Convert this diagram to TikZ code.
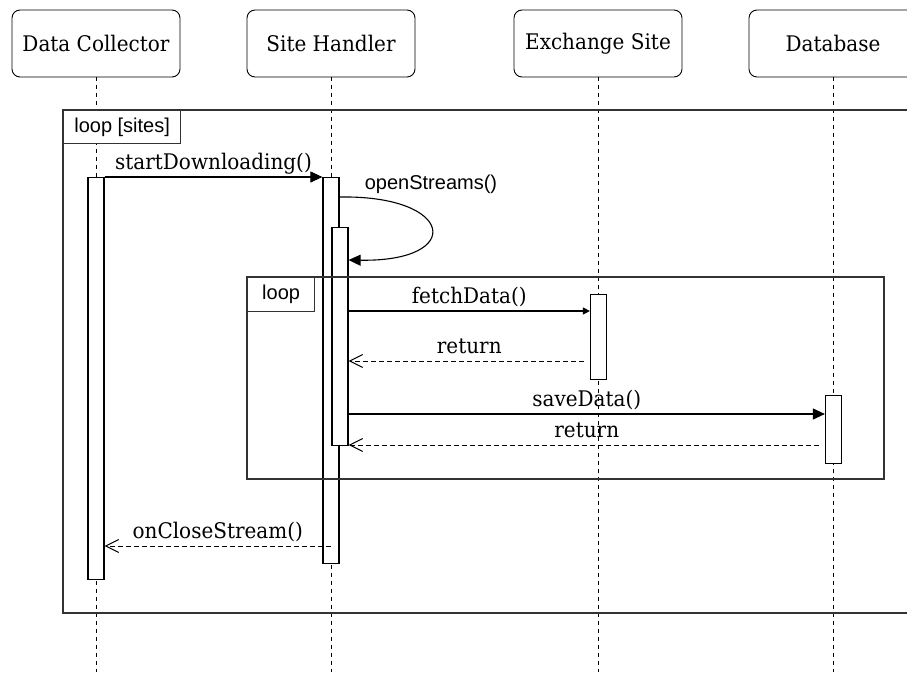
\documentclass[tikz,border=0pt]{standalone}
\usepackage{fontspec}
\setmainfont{DejaVu Serif}[FakeStretch=0.93]
\newfontfamily\framefont{Liberation Sans}
\usepackage{tikz}
\usetikzlibrary{arrows.meta, positioning, calc}
\definecolor{frameGray}{HTML}{333333}

\begin{document}
\begin{tikzpicture}[
    x=1pt, y=-1pt,
    actor/.style={rectangle, draw, rounded corners=8pt, minimum width=168pt, minimum height=67pt, font=\fontsize{21.5}{25}\selectfont, line width=0.9pt},
    lifeline/.style={dash pattern=on 4pt off 4pt, line width=1pt},
    activation/.style={rectangle, draw, fill=white, minimum width=16pt, inner sep=0pt, line width=1.2pt, anchor=north},
    frame/.style={draw=frameGray, line width=1.3pt},
    tag/.style={rectangle, draw=frameGray, fill=white, line width=1.3pt, anchor=north west, inner sep=0pt, font=\framefont\fontsize{20}{23}\selectfont},
    call/.style={-{Triangle[length=12pt, width=11pt]}, line width=1.1pt},
    reply/.style={-{Straight Barb[length=13pt, width=13pt]}, dash pattern=on 5pt off 3pt, line width=1pt},
    msg/.style={above, font=\fontsize{21.5}{25}\selectfont, inner sep=2pt, text depth=5pt},
]
    \useasboundingbox (0,0) rectangle (907,672);
    \coordinate (bottom) at (0,672);

    \node[actor] (dc) at (96,43.5) {Data Collector};
    \node[actor] (sh) at (331,43.5) {Site Handler};
    \node[actor] (es) at (598,43.5) {Exchange Site};
    \node[actor] (db) at (833,43.5) {Database};

    \foreach \p in {dc,sh,es,db}
        \draw[lifeline] (\p.south) -- (\p.south |- bottom);

    \node[activation, minimum height=402pt] (dcbar) at (96,177) {};
    \node[activation, minimum height=386pt] (shbar) at (331,177) {};
    \node[activation, minimum height=218pt] (shbar2) at (340,227) {};
    \node[activation, minimum height=85pt] (esbar) at (598.5,294) {};
    \node[activation, minimum height=68pt] (dbbar) at (833.5,395) {};

    \draw[frame] (63,110) rectangle (915,613);
    \node[tag, minimum width=117pt, minimum height=33pt] (outertag) at (63,110) {loop [sites]};
    \draw[frame] (247,277) rectangle (884,479);
    \node[tag, minimum width=67pt, minimum height=34pt] (innertag) at (247,277) {loop};

    \draw[call] (dcbar.north east) -- node[msg] {startDownloading()} (shbar.north west);
    \draw[call] (shbar.east |- 0,197) .. controls (455,195) and (465,262) .. (shbar2.east |- 0,260);
    \node[font=\framefont\fontsize{20}{23}\selectfont] (openlbl) at (431,184) {openStreams()};
    \draw[call, -{Triangle[length=7pt, width=7pt]}] (shbar2.east |- 0,311) -- node[msg] {fetchData()} (esbar.west |- 0,311);
    \draw[reply, shorten <=6pt] (esbar.west |- 0,361) -- node[msg] {return} (shbar2.east |- 0,361);
    \draw[call] (shbar2.east |- 0,414) -- node[msg] {saveData()} (dbbar.west |- 0,414);
    \draw[reply, shorten <=6pt] (dbbar.west |- 0,445) -- node[msg] {return} (shbar2.east |- 0,445);
    \draw[reply] (shbar.center |- 0,546) -- node[msg] {onCloseStream()} (dcbar.east |- 0,546);
\end{tikzpicture}
\end{document}
